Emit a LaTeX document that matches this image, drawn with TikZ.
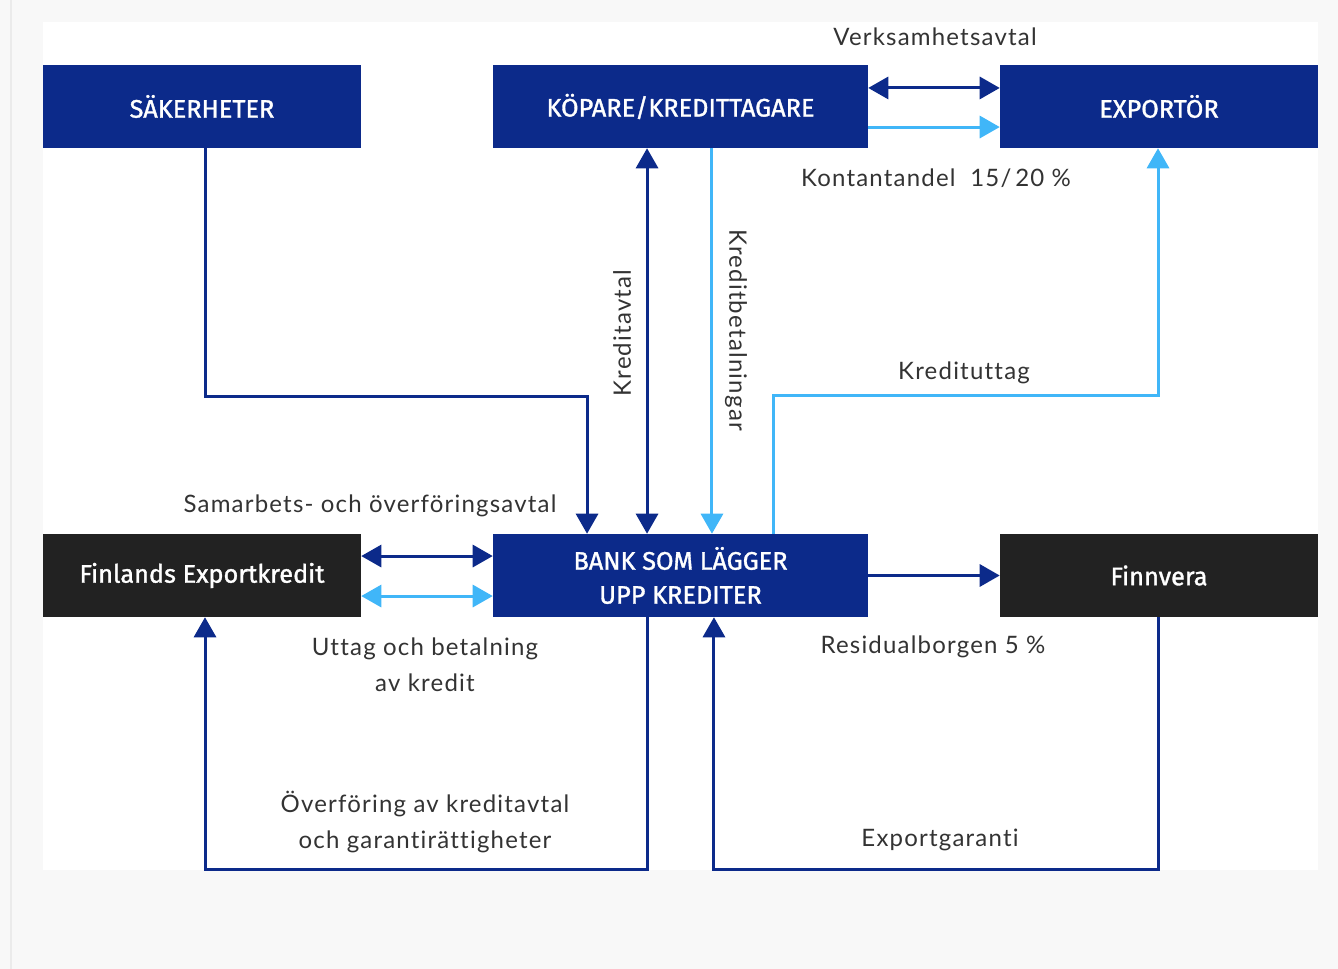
\documentclass[tikz,border=0pt]{standalone}
\usepackage{fontspec}
\setmainfont{Lato}[LetterSpace=5, Ligatures=NoCommon]
\newfontfamily\boxfont{Fira Sans}[FakeBold=1.3]
\usetikzlibrary{arrows.meta, positioning}
\definecolor{fvblue}{HTML}{0C2A8A}
\definecolor{fvlight}{HTML}{40B6F8}
\definecolor{fvdark}{HTML}{222222}
\definecolor{fvtext}{HTML}{333333}
\definecolor{fvpage}{HTML}{F8F8F8}
\tikzstyle{bluebox} = [rectangle, fill=fvblue, text=white, minimum height=62.25pt, inner sep=0, align=center, font=\boxfont\fontsize{19}{25.5}\selectfont]
\tikzstyle{darkbox} = [bluebox, fill=fvdark]
\tikzstyle{lbl} = [inner sep=0, align=center, text=fvtext, font=\fontsize{18}{27}\selectfont]
\tikzstyle{darkline} = [line width=2.25pt, draw=fvblue]
\tikzstyle{lightline} = [line width=2.25pt, draw=fvlight]

\begin{document}
\begin{tikzpicture}[x=0.75pt, y=-0.75pt, >={Triangle[length=15pt,width=16.5pt]}]

\useasboundingbox (0,0) rectangle (1338,969);
\fill[fvpage] (0,0) rectangle (1338,969);
\draw[black!8, line width=1.5pt] (10.5,0) -- (10.5,969);
\fill[white] (43,22) rectangle (1318,870);

% boxes
\node at (202,106.5) (sak) [bluebox, minimum width=238.5pt] {SÄKERHETER};
\node at (680.5,106.5) (kop) [bluebox, minimum width=281.25pt] {KÖPARE/KREDITTAGARE};
\node at (1159,106.5) (exp) [bluebox, minimum width=238.5pt] {EXPORTÖR};
\node at (202,575.5) (fin) [darkbox, minimum width=238.5pt] {Finlands Exportkredit};
\node at (680.5,575.5) (bank) [bluebox, minimum width=281.25pt] {BANK SOM LÄGGER\\UPP KREDITER};
\node at (1159,575.5) (fv) [darkbox, minimum width=238.5pt] {Finnvera};

% top row
\draw[darkline,<->] ([yshift=13.9pt]kop.east) -- ([yshift=13.9pt]exp.west);
\draw[lightline,->] ([yshift=-15.4pt]kop.east) -- ([yshift=-15.4pt]exp.west);
\node at (935,37) (verk) [lbl] {Verksamhetsavtal};
\node at (936,178) (kont) [lbl] {Kontantandel\ \ 15/\,20 \%};

% down to the bank
\draw[darkline,->] ([xshift=2.25pt]sak.south) -- ++(0,248) -| ([xshift=-70.1pt]bank.north);
\draw[darkline,<->] ([xshift=-25.1pt]kop.south) -- ([xshift=-25.1pt]bank.north);
\draw[lightline,->] ([xshift=23.6pt]kop.south) -- ([xshift=23.6pt]bank.north);
\draw[lightline,->] ([xshift=70.1pt]bank.north) -- ++(0,-138) -| ([xshift=-0.75pt]exp.south);
\node at (622,333) (avtal) [lbl, rotate=90] {Kreditavtal};
\node at (736,330) (betal) [lbl, rotate=-90] {Kreditbetalningar};
\node at (964,373) (uttag) [lbl] {Kredituttag};

% middle row
\draw[darkline,<->] ([yshift=14.6pt]fin.east) -- ([yshift=14.6pt]bank.west);
\draw[lightline,<->] ([yshift=-15.4pt]fin.east) -- ([yshift=-15.4pt]bank.west);
\draw[darkline,->] (bank.east) -- (fv.west);
\node at (370,506) (samarb) [lbl] {Samarbets- och överföringsavtal};
\node at (425,665) (uttbet) [lbl] {Uttag och betalning\\av kredit};
\node at (933,647) (resid) [lbl] {Residualborgen 5 \%};

% bottom loops
\draw[darkline,->] ([xshift=-25.1pt]bank.south) -- ++(0,252) -| ([xshift=2.25pt]fin.south);
\draw[darkline,->] ([xshift=-0.75pt]fv.south) -- ++(0,252) -| ([xshift=25.1pt]bank.south);
\node at (425,822) (overf) [lbl] {Överföring av kreditavtal\\och garantirättigheter};
\node at (940,840) (garanti) [lbl] {Exportgaranti};

\end{tikzpicture}
\end{document}
